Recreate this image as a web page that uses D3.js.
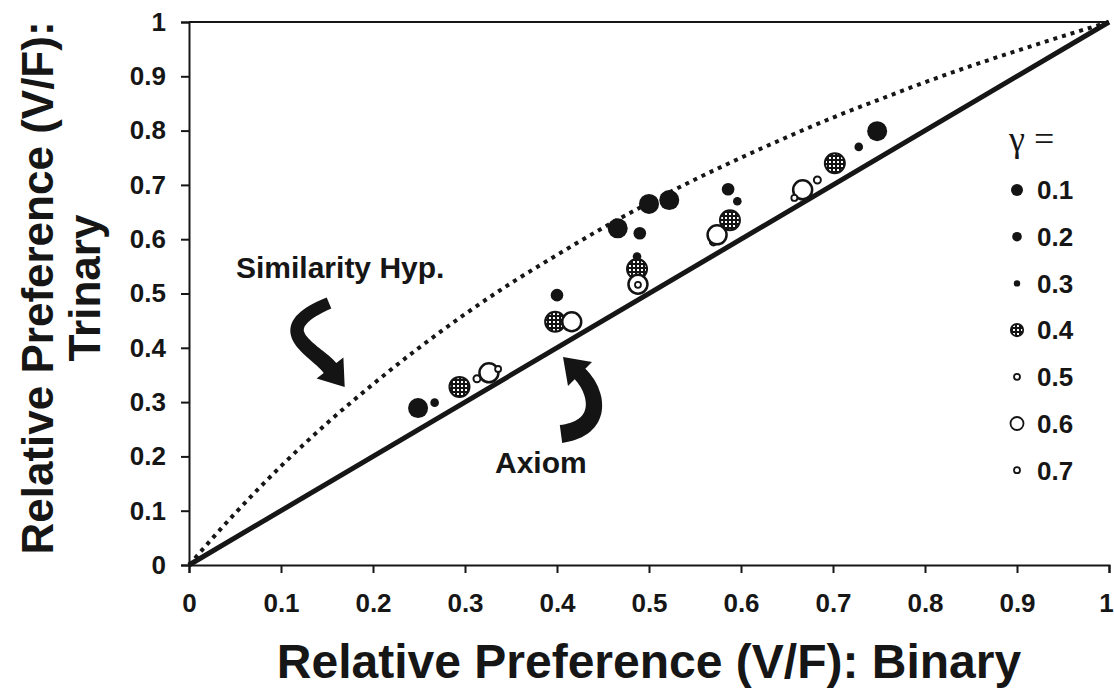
<!DOCTYPE html>
<html>
<head>
<meta charset="utf-8">
<script src="https://cdn.jsdelivr.net/npm/d3@7"></script>
<style>
  html, body { margin: 0; padding: 0; background: #fff; }
  svg { display: block; }
</style>
</head>
<body>
<svg id="chart" width="1114" height="690"></svg>
<script>
// Tick values and labels
const tickValues = [0, 0.1, 0.2, 0.3, 0.4, 0.5, 0.6, 0.7, 0.8, 0.9, 1];
const tickLabels = ["0", "0.1", "0.2", "0.3", "0.4", "0.5", "0.6", "0.7", "0.8", "0.9", "1"];

// Similarity-hypothesis reference curve (binary, trinary)
const simX = [0, 0.05, 0.1, 0.15, 0.2, 0.25, 0.3, 0.35, 0.4, 0.45, 0.5, 0.55, 0.6, 0.65, 0.7, 0.75, 0.8, 0.85, 0.9, 0.95, 1];
const simY = [0, 0.095, 0.182, 0.261, 0.333, 0.4, 0.462, 0.519, 0.571, 0.621, 0.667, 0.71, 0.75, 0.788, 0.824, 0.857, 0.889, 0.919, 0.947, 0.974, 1];

// Axiom (identity) line
const axiomX = [0, 1];
const axiomY = [0, 1];

// Legend categories (gamma)
const gammas = ["0.1", "0.2", "0.3", "0.4", "0.5", "0.6", "0.7"];

// Observed relative preferences per gamma: binary (x) and trinary (y)
const g01x = [0.249, 0.466, 0.500, 0.522, 0.748];
const g01y = [0.289, 0.620, 0.665, 0.672, 0.799];
const g02x = [0.400, 0.490, 0.586];
const g02y = [0.497, 0.611, 0.692];
const g03x = [0.267, 0.487, 0.596, 0.728];
const g03y = [0.299, 0.568, 0.670, 0.770];
const g04x = [0.294, 0.398, 0.487, 0.588, 0.702];
const g04y = [0.328, 0.448, 0.545, 0.635, 0.740];
const g05x = [0.313, 0.420, 0.570, 0.683];
const g05y = [0.343, 0.449, 0.595, 0.709];
const g06x = [0.326, 0.416, 0.488, 0.574, 0.667];
const g06y = [0.354, 0.448, 0.517, 0.608, 0.691];
const g07x = [0.336, 0.488, 0.658];
const g07y = [0.361, 0.516, 0.676];

const seriesX = [g01x, g02x, g03x, g04x, g05x, g06x, g07x];
const seriesY = [g01y, g02y, g03y, g04y, g05y, g06y, g07y];

// Marker look for each gamma: radius in plot, radius in legend, fill, stroke width
const markerStyle = [
  { r: 10,  lr: 6,   fill: "#141414", sw: 0 },
  { r: 6.3, lr: 4.8, fill: "#141414", sw: 0 },
  { r: 4.3, lr: 3.2, fill: "#141414", sw: 0 },
  { r: 10,  lr: 6.2, fill: "url(#hatch)", sw: 2 },
  { r: 3.5, lr: 3,   fill: "#fff", sw: 2 },
  { r: 9.5, lr: 6.5, fill: "#fff", sw: 2.5 },
  { r: 3,   lr: 3,   fill: "#fff", sw: 1.8 }
];

const SANS = "'Liberation Sans', Arial, sans-serif";
const INK = "#161616";

const svg = d3.select("#chart");
const x = d3.scaleLinear().domain([0, 1]).range([189, 1109]);
const y = d3.scaleLinear().domain([0, 1]).range([565, 22]);

// Cross-hatched fill
const defs = svg.append("defs");
const pat = defs.append("pattern").attr("id", "hatch")
  .attr("width", 4).attr("height", 4).attr("patternUnits", "userSpaceOnUse");
pat.append("rect").attr("width", 4).attr("height", 4).attr("fill", "#141414");
pat.append("rect").attr("x", 1).attr("y", 1).attr("width", 2).attr("height", 2).attr("fill", "#fff");

function boldText(sel, size) {
  return sel.style("font-family", SANS).style("font-weight", "bold")
    .style("font-size", size + "px").style("fill", INK);
}

// Axes
const fmt = d => tickLabels[tickValues.indexOf(d)];
const xAxis = svg.append("g").attr("transform", `translate(0,${y(0)})`)
  .call(d3.axisBottom(x).tickValues(tickValues).tickFormat(fmt).tickSize(8).tickPadding(21));
const yAxis = svg.append("g").attr("transform", `translate(${x(0)},0)`)
  .call(d3.axisLeft(y).tickValues(tickValues).tickFormat(fmt).tickSize(8).tickPadding(15));
[xAxis, yAxis].forEach(g => {
  g.select(".domain").attr("stroke", INK).attr("stroke-width", 2);
  g.selectAll(".tick line").attr("stroke", INK).attr("stroke-width", 2);
  boldText(g.selectAll(".tick text"), 26);
});
// keep the last x label inside the page edge
xAxis.selectAll(".tick text").filter(d => d === 1).attr("dx", -3);
// frame top edge
svg.append("line").attr("x1", x(0)).attr("x2", x(1)).attr("y1", y(1)).attr("y2", y(1))
  .attr("stroke", INK).attr("stroke-width", 2);

// Reference lines
svg.append("path").datum(simX.map((v, i) => [v, simY[i]]))
  .attr("d", d3.line().x(d => x(d[0])).y(d => y(d[1])).curve(d3.curveMonotoneX))
  .attr("fill", "none").attr("stroke", INK).attr("stroke-width", 4).attr("stroke-dasharray", "4,5");
svg.append("path").datum(axiomX.map((v, i) => [v, axiomY[i]]))
  .attr("d", d3.line().x(d => x(d[0])).y(d => y(d[1])))
  .attr("fill", "none").attr("stroke", INK).attr("stroke-width", 5);

// Data points
seriesX.forEach((xs, s) => {
  const st = markerStyle[s];
  svg.append("g").selectAll("circle").data(xs.map((v, i) => [v, seriesY[s][i]]))
    .join("circle")
    .attr("cx", d => x(d[0])).attr("cy", d => y(d[1])).attr("r", st.r)
    .attr("fill", st.fill)
    .attr("stroke", st.sw ? "#141414" : "none").attr("stroke-width", st.sw);
});

// Legend
const lg = svg.append("g");
lg.append("text").attr("x", 1009).attr("y", 151)
  .style("font-family", "'Liberation Serif', 'Times New Roman', serif").style("font-weight", "normal")
  .style("font-size", "36px").style("fill", INK).text("γ =");
gammas.forEach((g, i) => {
  const st = markerStyle[i];
  const cy = 190 + i * 46.7;
  lg.append("circle").attr("cx", 1017).attr("cy", cy).attr("r", st.lr)
    .attr("fill", st.fill).attr("stroke", st.sw ? "#141414" : "none")
    .attr("stroke-width", Math.min(st.sw, 1.8));
  boldText(lg.append("text").attr("x", 1037).attr("y", cy).attr("dy", "0.36em"), 26).text(g);
});

// Axis titles
boldText(svg.append("text").attr("x", 649).attr("y", 678).attr("text-anchor", "middle"), 48)
  .text("Relative Preference (V/F): Binary");
boldText(svg.append("text").attr("transform", "translate(53,288) rotate(-90)").attr("text-anchor", "middle"), 44)
  .text("Relative Preference (V/F):");
boldText(svg.append("text").attr("transform", "translate(100,288) rotate(-90)").attr("text-anchor", "middle"), 44)
  .text("Trinary");

// Annotations
boldText(svg.append("text").attr("x", 236).attr("y", 278), 30).text("Similarity Hyp.");
boldText(svg.append("text").attr("x", 495).attr("y", 473), 30).text("Axiom");

// Curved block arrows built from a cubic Bezier spine
function curvedArrow(p0, c1, c2, p1, w0, w1, headLen, headW) {
  const n = 40, left = [], right = [];
  const B = t => {
    const u = 1 - t;
    return [u*u*u*p0[0] + 3*u*u*t*c1[0] + 3*u*t*t*c2[0] + t*t*t*p1[0],
            u*u*u*p0[1] + 3*u*u*t*c1[1] + 3*u*t*t*c2[1] + t*t*t*p1[1]];
  };
  const dB = t => {
    const u = 1 - t;
    return [3*u*u*(c1[0]-p0[0]) + 6*u*t*(c2[0]-c1[0]) + 3*t*t*(p1[0]-c2[0]),
            3*u*u*(c1[1]-p0[1]) + 6*u*t*(c2[1]-c1[1]) + 3*t*t*(p1[1]-c2[1])];
  };
  for (let i = 0; i <= n; i++) {
    const t = i / n, p = B(t), d = dB(t);
    const len = Math.hypot(d[0], d[1]);
    const nx = -d[1] / len, ny = d[0] / len;
    const w = (w0 + (w1 - w0) * t) / 2;
    left.push([p[0] + nx * w, p[1] + ny * w]);
    right.push([p[0] - nx * w, p[1] - ny * w]);
  }
  const d = dB(1), len = Math.hypot(d[0], d[1]);
  const dx = d[0] / len, dy = d[1] / len, nx = -dy, ny = dx;
  const tip = [p1[0] + dx * headLen, p1[1] + dy * headLen];
  const hl = [p1[0] + nx * headW / 2, p1[1] + ny * headW / 2];
  const hr = [p1[0] - nx * headW / 2, p1[1] - ny * headW / 2];
  const pts = left.concat([hl, tip, hr]).concat(right.reverse());
  return "M" + pts.map(p => p[0].toFixed(1) + "," + p[1].toFixed(1)).join("L") + "Z";
}
svg.append("path").attr("fill", "#141414")
  .attr("d", curvedArrow([329, 303], [264, 330], [316, 350], [330, 368], 12, 16, 24, 34));
svg.append("path").attr("fill", "#141414")
  .attr("d", curvedArrow([561, 434], [605, 428], [598, 392], [580, 374], 18, 15, 24, 34));
</script>
</body>
</html>
